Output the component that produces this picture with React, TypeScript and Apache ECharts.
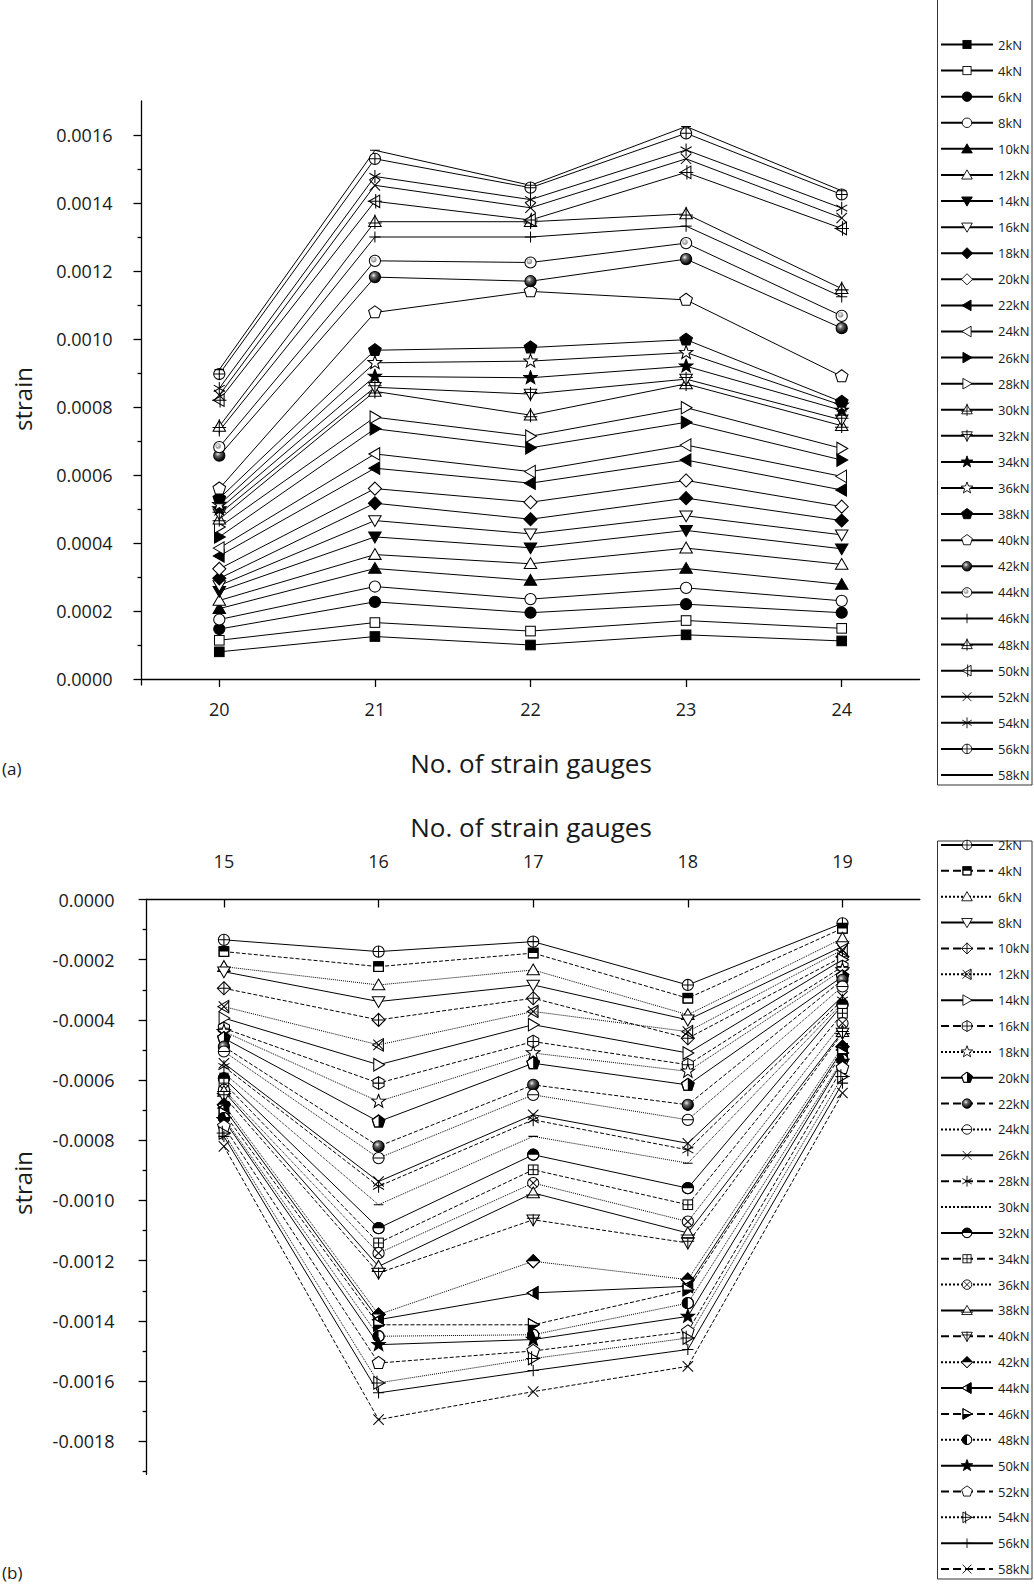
import React, { useEffect, useRef } from "react";
import * as echarts from "echarts";

const FONT = '"Open Sans", "DejaVu Sans", sans-serif';
const INK = "#1a1a1a";

/* ---------------- panel (a): strain gauges 20–24 ---------------- */
const gaugesA = [20, 21, 22, 23, 24];
const loadsA = ["2kN", "4kN", "6kN", "8kN", "10kN", "12kN", "14kN", "16kN", "18kN", "20kN", "22kN", "24kN", "26kN", "28kN", "30kN", "32kN", "34kN", "36kN", "38kN", "40kN", "42kN", "44kN", "46kN", "48kN", "50kN", "52kN", "54kN", "56kN", "58kN"];
const a02 = [0.000080, 0.000125, 0.000100, 0.000130, 0.000112];
const a04 = [0.000114, 0.000166, 0.000141, 0.000172, 0.000149];
const a06 = [0.000147, 0.000227, 0.000195, 0.000220, 0.000195];
const a08 = [0.000175, 0.000272, 0.000235, 0.000268, 0.000230];
const a10 = [0.000207, 0.000325, 0.000290, 0.000325, 0.000278];
const a12 = [0.000231, 0.000366, 0.000339, 0.000385, 0.000337];
const a14 = [0.000258, 0.000418, 0.000386, 0.000437, 0.000383];
const a16 = [0.000275, 0.000466, 0.000427, 0.000480, 0.000424];
const a18 = [0.000296, 0.000517, 0.000470, 0.000532, 0.000466];
const a20 = [0.000324, 0.000560, 0.000520, 0.000584, 0.000507];
const a22 = [0.000362, 0.000620, 0.000576, 0.000644, 0.000556];
const a24 = [0.000385, 0.000662, 0.000610, 0.000688, 0.000596];
const a26 = [0.000418, 0.000736, 0.000680, 0.000755, 0.000644];
const a28 = [0.000447, 0.000770, 0.000714, 0.000798, 0.000678];
const a30 = [0.000470, 0.000846, 0.000776, 0.000868, 0.000745];
const a32 = [0.000486, 0.000858, 0.000838, 0.000882, 0.000762];
const a34 = [0.000500, 0.000890, 0.000886, 0.000920, 0.000790];
const a36 = [0.000513, 0.000930, 0.000935, 0.000960, 0.000805];
const a38 = [0.000531, 0.000967, 0.000975, 0.000998, 0.000815];
const a40 = [0.000560, 0.001078, 0.001140, 0.001115, 0.000890];
const a42 = [0.000657, 0.001182, 0.001170, 0.001235, 0.001032];
const a44 = [0.000682, 0.001230, 0.001225, 0.001282, 0.001068];
const a46 = [0.000730, 0.001300, 0.001300, 0.001332, 0.001124];
const a48 = [0.000743, 0.001345, 0.001345, 0.001368, 0.001148];
const a50 = [0.000820, 0.001405, 0.001350, 0.001490, 0.001325];
const a52 = [0.000835, 0.001452, 0.001386, 0.001530, 0.001356];
const a54 = [0.000855, 0.001478, 0.001410, 0.001556, 0.001385];
const a56 = [0.000897, 0.001530, 0.001445, 0.001605, 0.001425];
const a58 = [0.000910, 0.001555, 0.001452, 0.001625, 0.001436];
const strainA = [a02, a04, a06, a08, a10, a12, a14, a16, a18, a20, a22, a24, a26, a28, a30, a32, a34, a36, a38, a40, a42, a44, a46, a48, a50, a52, a54, a56, a58];
const yTicksA = [0, 0.0002, 0.0004, 0.0006, 0.0008, 0.001, 0.0012, 0.0014, 0.0016];
const yMinorA = [0.0001, 0.0003, 0.0005, 0.0007, 0.0009, 0.0011, 0.0013, 0.0015];

/* ---------------- panel (b): strain gauges 15–19 ---------------- */
const gaugesB = [15, 16, 17, 18, 19];
const loadsB = loadsA;
const b02 = [-0.000134, -0.000173, -0.000140, -0.000284, -0.000079];
const b04 = [-0.000173, -0.000223, -0.000178, -0.000328, -0.000096];
const b06 = [-0.000223, -0.000284, -0.000234, -0.000383, -0.000129];
const b08 = [-0.000240, -0.000339, -0.000284, -0.000400, -0.000156];
const b10 = [-0.000295, -0.000400, -0.000328, -0.000461, -0.000190];
const b12 = [-0.000356, -0.000483, -0.000372, -0.000439, -0.000167];
const b14 = [-0.000394, -0.000549, -0.000416, -0.000510, -0.000200];
const b16 = [-0.000428, -0.000610, -0.000472, -0.000549, -0.000223];
const b18 = [-0.000439, -0.000671, -0.000510, -0.000571, -0.000234];
const b20 = [-0.000461, -0.000738, -0.000544, -0.000616, -0.000256];
const b22 = [-0.000489, -0.000820, -0.000616, -0.000682, -0.000267];
const b24 = [-0.000505, -0.000859, -0.000649, -0.000732, -0.000289];
const b26 = [-0.000544, -0.000937, -0.000715, -0.000810, -0.000322];
const b28 = [-0.000555, -0.000953, -0.000732, -0.000832, -0.000334];
const b30 = [-0.000577, -0.001014, -0.000787, -0.000876, -0.000344];
const b32 = [-0.000594, -0.001092, -0.000848, -0.000959, -0.000350];
const b34 = [-0.000610, -0.001141, -0.000898, -0.001014, -0.000378];
const b36 = [-0.000632, -0.001175, -0.000942, -0.001070, -0.000411];
const b38 = [-0.000638, -0.001219, -0.000975, -0.001108, -0.000439];
const b40 = [-0.000654, -0.001241, -0.001064, -0.001141, -0.000444];
const b42 = [-0.000682, -0.001379, -0.001202, -0.001263, -0.000489];
const b44 = [-0.000693, -0.001396, -0.001307, -0.001285, -0.000500];
const b46 = [-0.000710, -0.001413, -0.001413, -0.001296, -0.000510];
const b48 = [-0.000726, -0.001451, -0.001446, -0.001341, -0.000533];
const b50 = [-0.000732, -0.001479, -0.001462, -0.001385, -0.000538];
const b52 = [-0.000754, -0.001540, -0.001500, -0.001435, -0.000560];
const b54 = [-0.000776, -0.001606, -0.001525, -0.001457, -0.000588];
const b56 = [-0.000787, -0.001639, -0.001565, -0.001495, -0.000610];
const b58 = [-0.000820, -0.001728, -0.001635, -0.001551, -0.000643];
const strainB = [b02, b04, b06, b08, b10, b12, b14, b16, b18, b20, b22, b24, b26, b28, b30, b32, b34, b36, b38, b40, b42, b44, b46, b48, b50, b52, b54, b56, b58];
const yTicksB = [0, -0.0002, -0.0004, -0.0006, -0.0008, -0.001, -0.0012, -0.0014, -0.0016, -0.0018];
const yMinorB = [-0.0001, -0.0003, -0.0005, -0.0007, -0.0009, -0.0011, -0.0013, -0.0015, -0.0017, -0.0019];
// line pattern of panel (b) cycles solid / dashed / dotted
const dashCycle = ["solid", "dashed", "dotted"];

/* ---------------- marker glyphs (SVG, 20x20 box) ---------------- */
const SW = 'stroke="#000" stroke-width="1.3"';
const P = (pts: string, fill = "#fff") => `<polygon points="${pts}" fill="${fill}" ${SW} stroke-linejoin="miter"/>`;
const C = (r = 7, fill = "#fff") => `<circle cx="10" cy="10" r="${r}" fill="${fill}" ${SW}/>`;
const L = (x1: number, y1: number, x2: number, y2: number) => `<line x1="${x1}" y1="${y1}" x2="${x2}" y2="${y2}" ${SW}/>`;
const R = (x: number, y: number, w: number, h: number, fill = "#fff") => `<rect x="${x}" y="${y}" width="${w}" height="${h}" fill="${fill}" ${SW}/>`;
const F = (d: string) => `<path d="${d}" fill="#000" stroke="none"/>`;

function ngon(n: number, r: number, rIn = 0): string {
  const m = rIn ? n * 2 : n;
  const pts: string[] = [];
  for (let i = 0; i < m; i++) {
    const a = ((-90 + (i * 360) / m) * Math.PI) / 180;
    const rr = rIn && i % 2 ? rIn : r;
    pts.push(`${(10 + rr * Math.cos(a)).toFixed(2)},${(10 + rr * Math.sin(a)).toFixed(2)}`);
  }
  return pts.join(" ");
}

const UP = "10,2.5 17.8,16 2.2,16";
const DN = "10,17.5 17.8,4 2.2,4";
const DIA = "10,1.8 18.2,10 10,18.2 1.8,10";
const LT = "2.5,10 16,2.2 16,17.8";
const RT = "17.5,10 4,2.2 4,17.8";
const STAR = ngon(5, 9, 3.7);
const PENT = ngon(5, 8.3);
const PENT_PTS = PENT.split(" ");
const HEX = ngon(6, 8);
const PLUS = L(10, 3, 10, 17) + L(3, 10, 17, 10);
const CROSS = L(3.5, 3.5, 16.5, 16.5) + L(16.5, 3.5, 3.5, 16.5);
const ASTER = L(10, 2, 10, 18) + L(3.1, 6, 16.9, 14) + L(3.1, 14, 16.9, 6);
const DASH = L(4, 10, 16, 10);
const BALL =
  '<defs><radialGradient id="g" cx="0.38" cy="0.34" r="0.62"><stop offset="0" stop-color="#f2f2f2"/><stop offset="0.35" stop-color="#6a6a6a"/><stop offset="1" stop-color="#000"/></radialGradient></defs>' +
  `<circle cx="10" cy="10" r="7" fill="url(#g)" ${SW}/>`;
const GREYBALL =
  '<defs><radialGradient id="h" cx="0.4" cy="0.35" r="0.65"><stop offset="0" stop-color="#f4f4f4"/><stop offset="1" stop-color="#8a8a8a"/></radialGradient></defs>' +
  C(7) + '<circle cx="8.6" cy="8.6" r="3.2" fill="url(#h)" stroke="#999" stroke-width="0.6"/>';

const glyph = (body: string) =>
  "image://data:image/svg+xml;charset=utf-8," +
  encodeURIComponent(`<svg xmlns="http://www.w3.org/2000/svg" width="40" height="40" viewBox="0 0 20 20">${body}</svg>`);

const marksA = [
  R(4, 4, 12, 12, "#000"), R(4, 4, 12, 12), C(7, "#000"), C(7),
  P(UP, "#000"), P(UP), P(DN, "#000"), P(DN),
  P(DIA, "#000"), P(DIA), P(LT, "#000"), P(LT),
  P(RT, "#000"), P(RT), P(UP) + L(10, 1, 10, 19) + L(1.5, 12, 18.5, 12), P(DN) + L(10, 1, 10, 19) + L(1.5, 8, 18.5, 8),
  P(STAR, "#000"), P(STAR), P(PENT, "#000"), P(PENT),
  BALL, GREYBALL, PLUS, P(UP) + L(10, 1, 10, 19) + L(1.5, 11.5, 18.5, 11.5),
  P(LT) + L(11, 1, 11, 19) + L(1, 10, 19, 10), CROSS, ASTER, C(7) + PLUS, DASH,
].map(glyph);

const marksB = [
  C(7) + PLUS,
  R(4, 4, 12, 12) + F("M4,4 H16 V10 H4 Z") + `<rect x="4" y="4" width="12" height="12" fill="none" ${SW}/>`,
  P(UP),
  P(DN),
  P(DIA) + L(10, 1.8, 10, 18.2) + L(1.8, 10, 18.2, 10),
  `<polygon points="${LT}" fill="none" ${SW}/>` + CROSS,
  P(RT),
  P(HEX) + L(10, 2, 10, 18) + L(3.1, 10, 16.9, 10),
  P(STAR),
  P(PENT) + F(`M10,1.7 L${PENT_PTS[1]} L${PENT_PTS[2]} L10,16.7 Z`) + `<polygon points="${PENT}" fill="none" ${SW}/>`,
  BALL,
  C(7) + L(3, 10, 17, 10),
  CROSS,
  ASTER,
  DASH,
  C(7) + F("M3,10 A7,7 0 0 1 17,10 Z") + `<circle cx="10" cy="10" r="7" fill="none" ${SW}/>`,
  R(4, 4, 12, 12) + L(10, 4, 10, 16) + L(4, 10, 16, 10),
  C(7) + L(5.05, 5.05, 14.95, 14.95) + L(14.95, 5.05, 5.05, 14.95),
  P(UP) + L(1, 12.5, 19, 12.5),
  P(DN) + L(10, 3, 10, 18) + L(2, 8, 18, 8),
  P(DIA) + F("M10,1.8 L18.2,10 L1.8,10 Z") + `<polygon points="${DIA}" fill="none" ${SW}/>`,
  P(LT) + F("M9.25,6.1 L16,2.2 L16,17.8 L9.25,13.9 Z") + `<polygon points="${LT}" fill="none" ${SW}/>`,
  P(RT) + F("M4,10 L17.5,10 L4,17.8 Z") + `<polygon points="${RT}" fill="none" ${SW}/>`,
  C(7) + F("M10,3 A7,7 0 0 0 10,17 Z") + `<circle cx="10" cy="10" r="7" fill="none" ${SW}/>`,
  P(STAR, "#000"),
  P(PENT),
  P(RT) + L(8, 1, 8, 19) + L(1, 10, 19, 10),
  PLUS,
  CROSS,
].map(glyph);

/* ---------------- option builders ---------------- */
const axisLineStyle = { color: "#000", width: 1.3 };
const labelStyle = { fontFamily: FONT, fontSize: 18, color: INK };

function buildSeries(xs: number[], rows: number[][], names: string[], marks: string[], dashed: boolean) {
  return rows.map((ys, i) => ({
    type: "line",
    name: names[i],
    data: xs.map((x, j) => [x, ys[j]]),
    symbol: marks[i],
    symbolSize: 16,
    symbolKeepAspect: true,
    showSymbol: true,
    clip: false,
    silent: true,
    lineStyle: { color: "#000", width: 1, type: dashed ? dashCycle[i % 3] : "solid" },
    itemStyle: { color: "#000" },
    emphasis: { disabled: true },
  }));
}

function legendOf(names: string[], top: number, gap: number) {
  return {
    orient: "vertical",
    left: 940,
    top,
    padding: 0,
    itemWidth: 52,
    itemHeight: 17,
    itemGap: gap,
    selectedMode: false,
    data: names,
    textStyle: { fontFamily: FONT, fontSize: 13, color: INK, lineHeight: 17 },
  };
}

const text = (x: number, y: number, s: string, size: number, rotation = 0, align = "center") => ({
  type: "text",
  x,
  y,
  rotation,
  style: { text: s, fontFamily: FONT, fontSize: size, fill: INK, textAlign: align, textVerticalAlign: "middle" },
});

const optionA = {
  animation: false,
  backgroundColor: "#fff",
  grid: { left: 141.5, right: 114.5, top: 101, bottom: 115 },
  xAxis: [
    {
      type: "value", min: 19.5, max: 24.5, position: "bottom",
      axisLine: { lineStyle: axisLineStyle },
      axisTick: { customValues: gaugesA, length: 8, lineStyle: axisLineStyle },
      axisLabel: { customValues: gaugesA, margin: 15, ...labelStyle },
      splitLine: { show: false },
    },
  ],
  yAxis: [
    {
      type: "value", min: -0.0000176, max: 0.0017, position: "left",
      axisLine: { show: true, lineStyle: axisLineStyle },
      axisTick: { show: true, customValues: yTicksA, length: 8, lineStyle: axisLineStyle },
      axisLabel: { customValues: yTicksA, margin: 29, formatter: (v: number) => v.toFixed(4), ...labelStyle },
      splitLine: { show: false },
    },
    {
      type: "value", min: -0.0000176, max: 0.0017, position: "left",
      axisLine: { show: false },
      axisTick: { show: true, customValues: yMinorA, length: 4, lineStyle: axisLineStyle },
      axisLabel: { show: false },
      splitLine: { show: false },
    },
  ],
  legend: legendOf(loadsA, 36, 9.09),
  graphic: [
    { type: "rect", shape: { x: 937.5, y: -5, width: 94.5, height: 790 }, style: { fill: "none", stroke: "#333", lineWidth: 1 }, silent: true },
    text(22, 399, "strain", 24, Math.PI / 2),
    text(531, 763, "No. of strain gauges", 26),
    text(2, 768, "(a)", 17, 0, "left"),
  ],
  series: buildSeries(gaugesA, strainA, loadsA, marksA, false),
};

const optionB = {
  animation: false,
  backgroundColor: "#fff",
  grid: { left: 146.6, right: 114.2, top: 99.5, bottom: 110.6 },
  xAxis: [
    {
      type: "value", min: 14.5, max: 19.5, position: "top",
      axisLine: { lineStyle: axisLineStyle },
      axisTick: { customValues: gaugesB, length: 8, inside: true, lineStyle: axisLineStyle },
      axisLabel: { customValues: gaugesB, margin: 30, ...labelStyle },
      splitLine: { show: false },
    },
  ],
  yAxis: [
    {
      type: "value", min: -0.00191, max: 0, position: "left",
      axisLine: { show: true, lineStyle: axisLineStyle },
      axisTick: { show: true, customValues: yTicksB, length: 8, lineStyle: axisLineStyle },
      axisLabel: { customValues: yTicksB, margin: 32, formatter: (v: number) => v.toFixed(4), ...labelStyle },
      splitLine: { show: false },
    },
    {
      type: "value", min: -0.00191, max: 0, position: "left",
      axisLine: { show: false },
      axisTick: { show: true, customValues: yMinorB, length: 4, lineStyle: axisLineStyle },
      axisLabel: { show: false },
      splitLine: { show: false },
    },
  ],
  legend: legendOf(loadsB, 36.5, 8.86),
  graphic: [
    { type: "rect", shape: { x: 937.5, y: 41, width: 94.5, height: 738 }, style: { fill: "none", stroke: "#333", lineWidth: 1 }, silent: true },
    text(22, 383, "strain", 24, Math.PI / 2),
    text(531, 27, "No. of strain gauges", 26),
    text(2, 772, "(b)", 17, 0, "left"),
  ],
  series: buildSeries(gaugesB, strainB, loadsB, marksB, true),
};

function Chart({ option, style }: { option: any; style: React.CSSProperties }) {
  const ref = useRef<HTMLDivElement>(null);
  useEffect(() => {
    const chart = echarts.init(ref.current!, null, { renderer: "svg" });
    chart.setOption(option);
    return () => chart.dispose();
  }, [option]);
  return <div ref={ref} style={style} />;
}

export default function App() {
  return (
    <div style={{ position: "absolute", left: 0, top: 0, width: 1034, height: 1585, background: "#fff" }}>
      <Chart option={optionA} style={{ position: "absolute", left: 0, top: 0, width: 1034, height: 800 }} />
      <Chart option={optionB} style={{ position: "absolute", left: 0, top: 800, width: 1034, height: 785 }} />
    </div>
  );
}
